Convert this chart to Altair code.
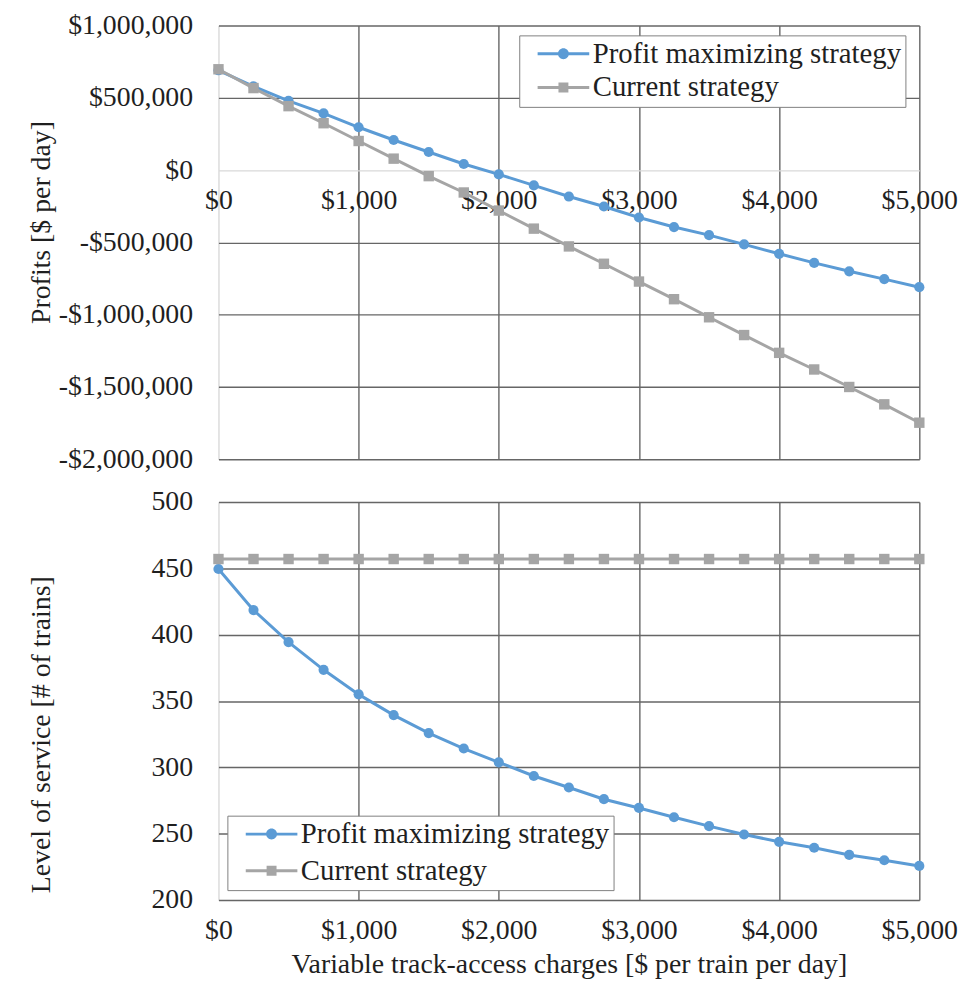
import altair as alt
import pandas as pd

# ---------------- data ----------------
charges = [0, 250, 500, 750, 1000, 1250, 1500, 1750, 2000, 2250, 2500,
           2750, 3000, 3250, 3500, 3750, 4000, 4250, 4500, 4750, 5000]
series_names = ["Profit maximizing strategy", "Current strategy"]

# Profits [$ per day]
profit_max = [690000, 579000, 479000, 392000, 296000, 208000, 125000, 42000,
              -30000, -106000, -183000, -252000, -328000, -394000, -450000,
              -514000, -579000, -642000, -700000, -754000, -810000]
profit_cur = [697000, 567000, 442000, 324000, 201000, 79000, -42000, -155000,
              -280000, -405000, -528000, -648000, -771000, -893000, -1018000,
              -1141000, -1264000, -1379000, -1500000, -1620000, -1747000]

# Level of service [# of trains]
los_max = [449.5, 418.5, 394.4, 373.5, 355.0, 339.4, 325.8, 314.2, 303.8,
           293.5, 284.8, 276.0, 269.4, 262.4, 255.7, 249.4, 243.9, 239.4,
           234.0, 230.0, 225.7]
los_cur = [457] * 21

x_ticks = [0, 1000, 2000, 3000, 4000, 5000]
profit_ticks = [-2000000, -1500000, -1000000, -500000, 0, 500000, 1000000]
los_ticks = [200, 250, 300, 350, 400, 450, 500]

BLUE = "#5B9BD5"
GRAY = "#A5A5A5"
GRID = "#666666"
LIGHT = "#d9d9d9"
FONT = "Liberation Serif"
TXT = "#1f1f1f"
FS = 28
LFS = 29


def long_frame(a, b):
    rows = []
    for i, c in enumerate(charges):
        rows.append({"charge": c, "series": series_names[0], "value": a[i]})
        rows.append({"charge": c, "series": series_names[1], "value": b[i]})
    return pd.DataFrame(rows)


# legend symbols: a line segment with the marker in its middle
SYM_CIRCLE = ("M-2.6,-0.14H2.6V0.14H-2.6Z "
              "M0.55,0A0.55,0.55 0 1,1 -0.55,0A0.55,0.55 0 1,1 0.55,0Z")
SYM_SQUARE = "M-2.6,-0.14H2.6V0.14H-2.6Z M-0.5,-0.5H0.5V0.5H-0.5Z"


def grid_color():
    return {"condition": {"test": "datum.value === 0", "value": LIGHT},
            "value": GRID}


def panel(df, y_axis, y_scale, legend_x, legend_y, row_pad, x_axis, height):
    base = alt.Chart(df)
    x_enc = alt.X("charge:Q", scale=alt.Scale(domain=[0, 5000], nice=False),
                  axis=x_axis)
    y_enc = alt.Y("value:Q", scale=y_scale, axis=y_axis)

    blue = base.transform_filter(alt.datum.series == series_names[0])
    gray = base.transform_filter(alt.datum.series == series_names[1])

    line_blue = blue.mark_line(strokeWidth=3, color=BLUE).encode(x=x_enc, y=y_enc)
    pts_blue = blue.mark_circle(size=105, opacity=1, color=BLUE).encode(x=x_enc, y=y_enc)
    line_gray = gray.mark_line(strokeWidth=3, color=GRAY).encode(x=x_enc, y=y_enc)
    pts_gray = gray.mark_square(size=110, opacity=1, color=GRAY).encode(x=x_enc, y=y_enc)

    leg = alt.Legend(
        title=None, orient="none", legendX=legend_x, legendY=legend_y,
        strokeColor="#808080", fillColor="white", padding=4, rowPadding=row_pad,
        symbolOffset=26, labelOffset=15, labelFont=FONT, labelFontSize=LFS,
        labelColor=TXT, labelLimit=600, symbolSize=400, symbolStrokeWidth=0,
        symbolOpacity=1,
    )
    # invisible layer whose only job is to carry the legend
    legend_layer = base.mark_point(filled=True, size=1, opacity=0).encode(
        x=x_enc, y=y_enc,
        fill=alt.Fill("series:N",
                      scale=alt.Scale(domain=series_names, range=[BLUE, GRAY]),
                      legend=leg),
        shape=alt.Shape("series:N",
                        scale=alt.Scale(domain=series_names,
                                        range=[SYM_CIRCLE, SYM_SQUARE]),
                        legend=leg),
    )
    return alt.layer(line_blue, pts_blue, line_gray, pts_gray,
                     legend_layer).properties(width=706, height=height)


common_axis = dict(
    labelFont=FONT, labelFontSize=FS, labelColor=TXT, labelFlush=False,
    titleFont=FONT, titleFontSize=FS, titleColor=TXT, titleFontWeight="normal",
    ticks=False, domain=False, grid=True, gridColor=grid_color(), gridWidth=1.4,
)

TOP_H = 437
BOT_H = 401

# ---------------- top panel: profits ----------------
top_x_axis = alt.Axis(
    values=x_ticks, labelExpr="'$' + format(datum.value, ',')",
    orient="bottom", offset=-(TOP_H * 2.0 / 3.0), title=None, labelPadding=17,
    **common_axis,
)
top_y_axis = alt.Axis(
    values=profit_ticks,
    labelExpr="datum.value < 0 ? '-$' + format(-datum.value, ',') : '$' + format(datum.value, ',')",
    title="Profits [$ per day]", labelPadding=26, minExtent=152, maxExtent=152,
    titlePadding=12, titleY=198, **common_axis,
)
top = panel(
    long_frame(profit_max, profit_cur), top_y_axis,
    alt.Scale(domain=[-2000000, 1000000], nice=False),
    303, 10, 4, top_x_axis, TOP_H,
)

# ---------------- bottom panel: level of service ----------------
bot_x_axis = alt.Axis(
    values=x_ticks, labelExpr="'$' + format(datum.value, ',')",
    title="Variable track-access charges [$ per train per day]",
    labelPadding=17, titlePadding=6, **common_axis,
)
bot_y_axis = alt.Axis(
    values=los_ticks, title="Level of service [# of trains]", labelPadding=26,
    minExtent=152, maxExtent=152, titlePadding=12, titleY=234, **common_axis,
)
bottom = panel(
    long_frame(los_max, los_cur), bot_y_axis,
    alt.Scale(domain=[200, 500], nice=False),
    9, 316, 7, bot_x_axis, BOT_H,
)

chart = alt.vconcat(top, bottom, spacing=43, bounds="flush").resolve_scale(
    y="independent", fill="independent", shape="independent",
).properties(
    padding={"left": 20, "top": 0, "right": 5, "bottom": 5},
    background="white",
).configure_view(stroke=None)

chart.save("out.html", embed_options={"renderer": "svg", "actions": False})
